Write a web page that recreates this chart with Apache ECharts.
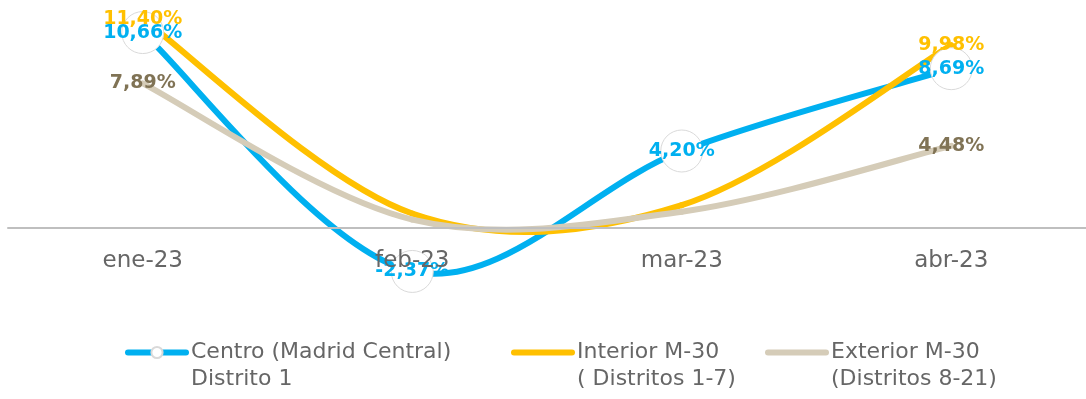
<!DOCTYPE html>
<html lang="es">
<head>
    <meta charset="UTF-8">
    <title>Evolución precios</title>
    <script src="https://cdn.jsdelivr.net/npm/echarts@6/dist/echarts.min.js"></script>
    <style>
        html, body {margin: 0; padding: 0; background: #fff;}
        #grafico {width: 1086px; height: 399px;}
    </style>
</head>
<body>
<div id="grafico"></div>
<script type="text/javascript">
    // datos
    const categorias = ['ene-23', 'feb-23', 'mar-23', 'abr-23'];
    const centro = [10.66, -2.37, 4.20, 8.69];
    const interior = [11.40, 0.79, 1.25, 9.98];
    const exterior = [7.89, 0.46, 0.89, 4.48];
    const nombres = ['Centro (Madrid Central)\nDistrito 1', 'Interior M-30\n( Distritos 1-7)', 'Exterior M-30\n(Distritos 8-21)'];
    // puntos con etiqueta
    const etiquetasCentro = [0, 1, 2, 3];
    const etiquetasExtremos = [0, 3];

    const colores = ['#00B0F0', '#FFC000', '#D5CCB8'];
    const fuente = "'Century Gothic', 'DejaVu Sans', sans-serif";

    function etiqueta(indices, color) {
        return {
            show: true,
            position: 'inside',
            color: color,
            fontFamily: fuente,
            fontSize: 19,
            fontWeight: 'bold',
            formatter: function (p) {
                if (indices.indexOf(p.dataIndex) < 0) return '';
                return p.value.toFixed(2).replace('.', ',') + '%';
            }
        };
    }

    function leyenda(nombre, color, left) {
        return {
            data: [nombre],
            left: left,
            top: 312,
            padding: 0,
            itemWidth: 58,
            itemHeight: 14,
            selectedMode: false,
            lineStyle: {color: color, width: 6, opacity: 1, cap: 'round'},
            // linea vacia delante para que el icono quede en la primera linea
            formatter: function (n) {
                return '\n' + n;
            },
            textStyle: {
                fontFamily: fuente,
                fontSize: 22,
                lineHeight: 27,
                color: '#666'
            }
        };
    }

    // curva suavizada tipo excel (bezier con tangentes de los vecinos)
    function curva(valores, color) {
        return {
            type: 'custom',
            coordinateSystem: 'cartesian2d',
            data: valores.map((v, i) => [i, v]),
            encode: {x: 0, y: 1},
            silent: true,
            z: 1,
            renderItem: function (params, api) {
                let i = params.dataIndex;
                let n = valores.length;
                if (i >= n - 1) return;
                let p = [i - 1, i, i + 1, i + 2].map(j => {
                    j = Math.max(0, Math.min(n - 1, j));
                    return api.coord([j, valores[j]]);
                });
                return {
                    type: 'bezierCurve',
                    shape: {
                        x1: p[1][0], y1: p[1][1],
                        x2: p[2][0], y2: p[2][1],
                        cpx1: p[1][0] + (p[2][0] - p[0][0]) / 6,
                        cpy1: p[1][1] + (p[2][1] - p[0][1]) / 6,
                        cpx2: p[2][0] - (p[3][0] - p[1][0]) / 6,
                        cpy2: p[2][1] - (p[3][1] - p[1][1]) / 6
                    },
                    style: {stroke: color, lineWidth: 6, lineCap: 'round', fill: null}
                };
            }
        };
    }

    const chart = echarts.init(document.getElementById('grafico'));
    chart.setOption({
        animation: false,
        grid: {left: 8, right: -9, top: 8, bottom: 171},
        legend: [
            leyenda(nombres[0], colores[0], 125),
            leyenda(nombres[1], colores[1], 511),
            leyenda(nombres[2], colores[2], 765)
        ],
        xAxis: {
            type: 'category',
            data: categorias,
            boundaryGap: true,
            z: 5,
            axisLine: {lineStyle: {color: '#bfbfbf', width: 2}},
            axisTick: {show: false},
            axisLabel: {margin: 22, fontFamily: fuente, fontSize: 23, color: '#666'}
        },
        yAxis: {
            type: 'value',
            min: 0,
            max: 12,
            show: false,
            splitLine: {show: false}
        },
        series: [
            curva(centro, colores[0]),
            {
                name: nombres[0],
                type: 'line',
                data: centro,
                clip: false,
                z: 1,
                symbol: 'circle',
                symbolSize: 42,
                itemStyle: {color: '#fff', borderColor: '#d9d9d9', borderWidth: 1},
                lineStyle: {color: colores[0], opacity: 0},
                label: etiqueta(etiquetasCentro, '#00B0F0')
            },
            curva(interior, colores[1]),
            {
                name: nombres[1],
                type: 'line',
                data: interior,
                clip: false,
                z: 1,
                symbol: 'circle',
                symbolSize: 1,
                itemStyle: {color: 'rgba(0,0,0,0)'},
                lineStyle: {color: colores[1], opacity: 0},
                label: etiqueta(etiquetasExtremos, '#FFC000')
            },
            curva(exterior, colores[2]),
            {
                name: nombres[2],
                type: 'line',
                data: exterior,
                clip: false,
                z: 1,
                symbol: 'circle',
                symbolSize: 1,
                itemStyle: {color: 'rgba(0,0,0,0)'},
                lineStyle: {color: colores[2], opacity: 0},
                label: etiqueta(etiquetasExtremos, '#807355')
            }
        ]
    });
</script>
</body>
</html>
